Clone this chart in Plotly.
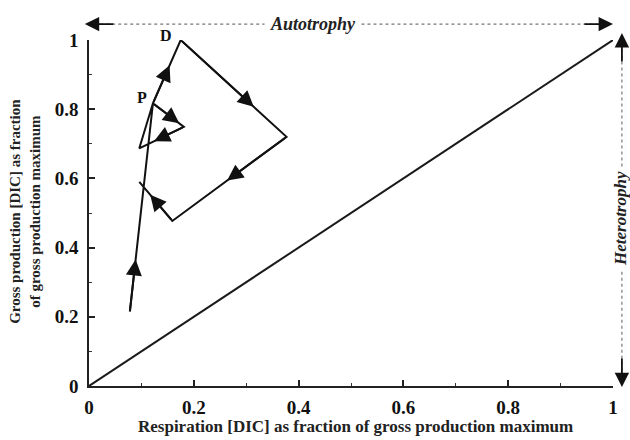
import plotly.graph_objects as go

# Trajectory of respiration vs. gross production (fractions of the production maximum)
respiration = [0.078, 0.122, 0.181, 0.096, 0.122, 0.175, 0.377, 0.159, 0.096]
gross_production = [0.215, 0.817, 0.749, 0.687, 0.817, 1.0, 0.72, 0.477, 0.59]
# position of the direction arrow along each segment (None = no arrow)
arrow_fraction = [0.25, 0.85, 0.67, None, 0.6, 0.69, 0.52, 0.67]

# labelled states on the trajectory
state_labels = ["P", "D"]
state_label_x = [0.102, 0.147]
state_label_y = [0.835, 1.012]

# 1:1 balance line
balance_x = [0, 1]
balance_y = [0, 1]

tick_values = [0, 0.2, 0.4, 0.6, 0.8, 1]
tick_text = ["0", "0.2", "0.4", "0.6", "0.8", "1"]

x_title = "Respiration [DIC] as fraction of gross production maximum"
y_title_lines = ["Gross production [DIC] as fraction", "of gross production maximum"]

serif = "Liberation Serif"

fig = go.Figure()
fig.add_trace(go.Scatter(x=balance_x, y=balance_y, mode="lines",
                         line=dict(color="#1a1a1a", width=2), showlegend=False))
fig.add_trace(go.Scatter(x=respiration, y=gross_production, mode="lines",
                         line=dict(color="#111111", width=2), showlegend=False))

annotations = []
for i, t in enumerate(arrow_fraction):
    if t is None:
        continue
    x0, y0 = respiration[i], gross_production[i]
    x1, y1 = respiration[i + 1], gross_production[i + 1]
    hx, hy = x0 + t * (x1 - x0), y0 + t * (y1 - y0)
    # arrow shaft runs from the segment start so it lies on the path line
    annotations.append(dict(x=hx, y=hy, ax=x0, ay=y0, xref="x", yref="y",
                            axref="x", ayref="y", text="", showarrow=True,
                            arrowhead=2, arrowsize=1.6, arrowwidth=2,
                            arrowcolor="#111111", standoff=0, startstandoff=0))

# axis ranges are [0, 1], so paper coordinates coincide with data values
for lab, lx, ly in zip(state_labels, state_label_x, state_label_y):
    annotations.append(dict(x=lx, y=ly, xref="paper", yref="paper", text="<b>%s</b>" % lab,
                            showarrow=False, xanchor="center", yanchor="middle",
                            font=dict(family=serif, size=16, color="#111")))

# Autotrophy arrow across the top
top_y = 1.046
annotations.append(dict(x=-0.008, y=top_y, ax=30, ay=0, xref="paper", yref="paper",
                        text="", showarrow=True, arrowhead=2, arrowsize=1.6,
                        arrowwidth=1.8, arrowcolor="#111"))
annotations.append(dict(x=1.0, y=top_y, ax=-30, ay=0, xref="paper", yref="paper",
                        text="", showarrow=True, arrowhead=2, arrowsize=1.6,
                        arrowwidth=1.8, arrowcolor="#111"))
annotations.append(dict(x=0.428, y=top_y, xref="paper", yref="paper",
                        xanchor="center", yanchor="middle",
                        text="<b><i>Autotrophy</i></b>", showarrow=False,
                        font=dict(family=serif, size=18, color="#222")))

# Heterotrophy arrow down the right side
right_x = 1.017
annotations.append(dict(x=right_x, y=1.02, ax=0, ay=30, xref="paper", yref="paper",
                        text="", showarrow=True, arrowhead=2, arrowsize=1.6,
                        arrowwidth=1.8, arrowcolor="#111"))
annotations.append(dict(x=right_x, y=-0.003, ax=0, ay=-30, xref="paper", yref="paper",
                        text="", showarrow=True, arrowhead=2, arrowsize=1.6,
                        arrowwidth=1.8, arrowcolor="#111"))
annotations.append(dict(x=1.013, y=0.485, xref="paper", yref="paper",
                        xanchor="center", yanchor="middle", borderpad=0,
                        text="<b><i>Heterotrophy</i></b>", showarrow=False, textangle=-90,
                        font=dict(family=serif, size=17, color="#222")))

# axis titles
annotations.append(dict(x=0.508, y=-0.118, xref="paper", yref="paper",
                        xanchor="center", yanchor="middle",
                        text="<b>%s</b>" % x_title,
                        showarrow=False, font=dict(family=serif, size=17, color="#222")))
annotations.append(dict(x=-0.121, y=0.505, xref="paper", yref="paper",
                        xanchor="center", yanchor="middle", borderpad=0,
                        text="<br>".join("<b>%s</b>" % s for s in y_title_lines),
                        showarrow=False, textangle=-90,
                        font=dict(family=serif, size=15, color="#222")))

shapes = [
    dict(type="line", xref="paper", yref="paper", x0=0.01, x1=0.335, y0=top_y, y1=top_y,
         line=dict(color="#777", width=1.2, dash="dot")),
    dict(type="line", xref="paper", yref="paper", x0=0.52, x1=0.97, y0=top_y, y1=top_y,
         line=dict(color="#777", width=1.2, dash="dot")),
    dict(type="line", xref="paper", yref="paper", x0=right_x, x1=right_x, y0=0.99, y1=0.63,
         line=dict(color="#777", width=1.2, dash="dot")),
    dict(type="line", xref="paper", yref="paper", x0=right_x, x1=right_x, y0=0.33, y1=0.03,
         line=dict(color="#777", width=1.2, dash="dot")),
]

axis_common = dict(
    range=[0, 1], showgrid=False, zeroline=False, showline=True,
    linecolor="#222", linewidth=1.5, ticks="inside", ticklen=6, tickwidth=1.5,
    tickcolor="#222", tickvals=tick_values,
    ticktext=["<b>%s</b>" % s for s in tick_text],
    tickfont=dict(family=serif, size=19, color="#111"),
    minor=dict(dtick=0.1, ticks="inside", ticklen=3, tickwidth=1, tickcolor="#333"),
    fixedrange=True,
)

fig.update_layout(
    width=630, height=440,
    margin=dict(l=89, r=12, t=40, b=54),
    paper_bgcolor="white", plot_bgcolor="white",
    xaxis=dict(**axis_common, ticklabelstandoff=3),
    yaxis=dict(**axis_common, ticklabelstandoff=5),
    annotations=annotations, shapes=shapes,
    showlegend=False,
)

fig.write_html("out.html")
